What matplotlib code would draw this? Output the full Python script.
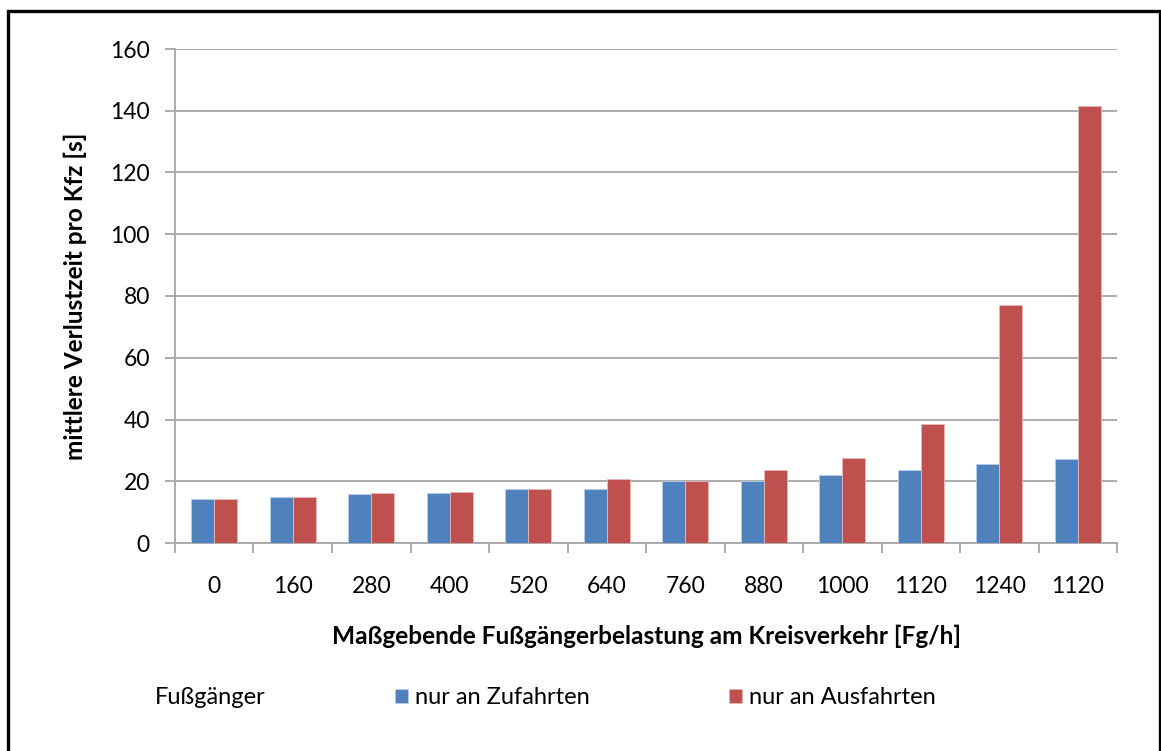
import matplotlib
matplotlib.use("Agg")
import matplotlib.pyplot as plt
from matplotlib.patches import Rectangle
import numpy as np

plt.rcParams['font.family'] = ['Lato', 'DejaVu Sans']

categories = ["0", "160", "280", "400", "520", "640", "760", "880", "1000", "1120", "1240", "1120"]
zufahrten = [14.2, 14.9, 15.8, 16.1, 17.4, 17.4, 20.1, 20.1, 21.9, 23.5, 25.6, 27.1]
ausfahrten = [14.2, 14.9, 16.1, 16.5, 17.4, 20.6, 20.0, 23.5, 27.5, 38.6, 77.2, 141.5]
y_ticks = [0, 20, 40, 60, 80, 100, 120, 140, 160]

blue = "#4F81BD"
red = "#C0504D"
grid_col = "#A6A6A6"

W, H = 1161, 751
fig = plt.figure(figsize=(W / 100, H / 100), dpi=100)
ax = fig.add_axes([175 / W, 1 - 543 / H, (1117 - 175) / W, (543 - 49) / H])

x = np.arange(len(categories))
bw = 0.29
ax.bar(x - bw / 2, zufahrten, bw, color=blue, edgecolor="#B9CDE5", linewidth=0.6, zorder=3,
       label="nur an Zufahrten")
ax.bar(x + bw / 2, ausfahrten, bw, color=red, edgecolor="#E6B9B8", linewidth=0.6, zorder=3,
       label="nur an Ausfahrten")

ax.set_xlim(-0.5, len(categories) - 0.5)
ax.set_ylim(0, 160)
ax.set_yticks(y_ticks)
ax.set_yticklabels([str(v) for v in y_ticks])
ax.yaxis.grid(True, color=grid_col, linewidth=1.3, zorder=0)
ax.set_axisbelow(True)

ax.set_xticks(x)
ax.set_xticklabels(categories)
ax.set_xticks(np.arange(-0.5, len(categories)), minor=True)
ax.tick_params(axis="x", which="major", length=0, pad=24, labelsize=16.5, colors="#000000")
ax.tick_params(axis="x", which="minor", length=7, width=1.3, color=grid_col, direction="out")
ax.tick_params(axis="y", length=7, width=1.3, color=grid_col, pad=11, labelsize=16.5)

for s in ("top", "right"):
    ax.spines[s].set_visible(False)
for s in ("left", "bottom"):
    ax.spines[s].set_color(grid_col)
    ax.spines[s].set_linewidth(1.3)

ax.set_xlabel("Maßgebende Fußgängerbelastung am Kreisverkehr [Fg/h]", fontsize=17.6,
              fontweight="bold", labelpad=20)
ax.set_ylabel("mittlere Verlustzeit pro Kfz [s]", fontsize=17.6, fontweight="bold", labelpad=17)

fig.text(155 / W, 1 - 697 / H, "Fußgänger", fontsize=17, va="center", ha="left")
leg = fig.legend(loc="center left", bbox_to_anchor=(395 / W, 1 - 698 / H), ncol=2,
                 frameon=False, fontsize=17, handlelength=0.55, handleheight=0.55,
                 handletextpad=0.3, columnspacing=5.9, borderaxespad=0, borderpad=0)

frame = Rectangle((7.5 / W, -0.05), (1159.5 - 7.5) / W, 1 - 10.5 / H + 0.05,
                  transform=fig.transFigure, fill=False, edgecolor="black", linewidth=2.4)
fig.patches.append(frame)

fig.savefig("out.png", dpi=100)
